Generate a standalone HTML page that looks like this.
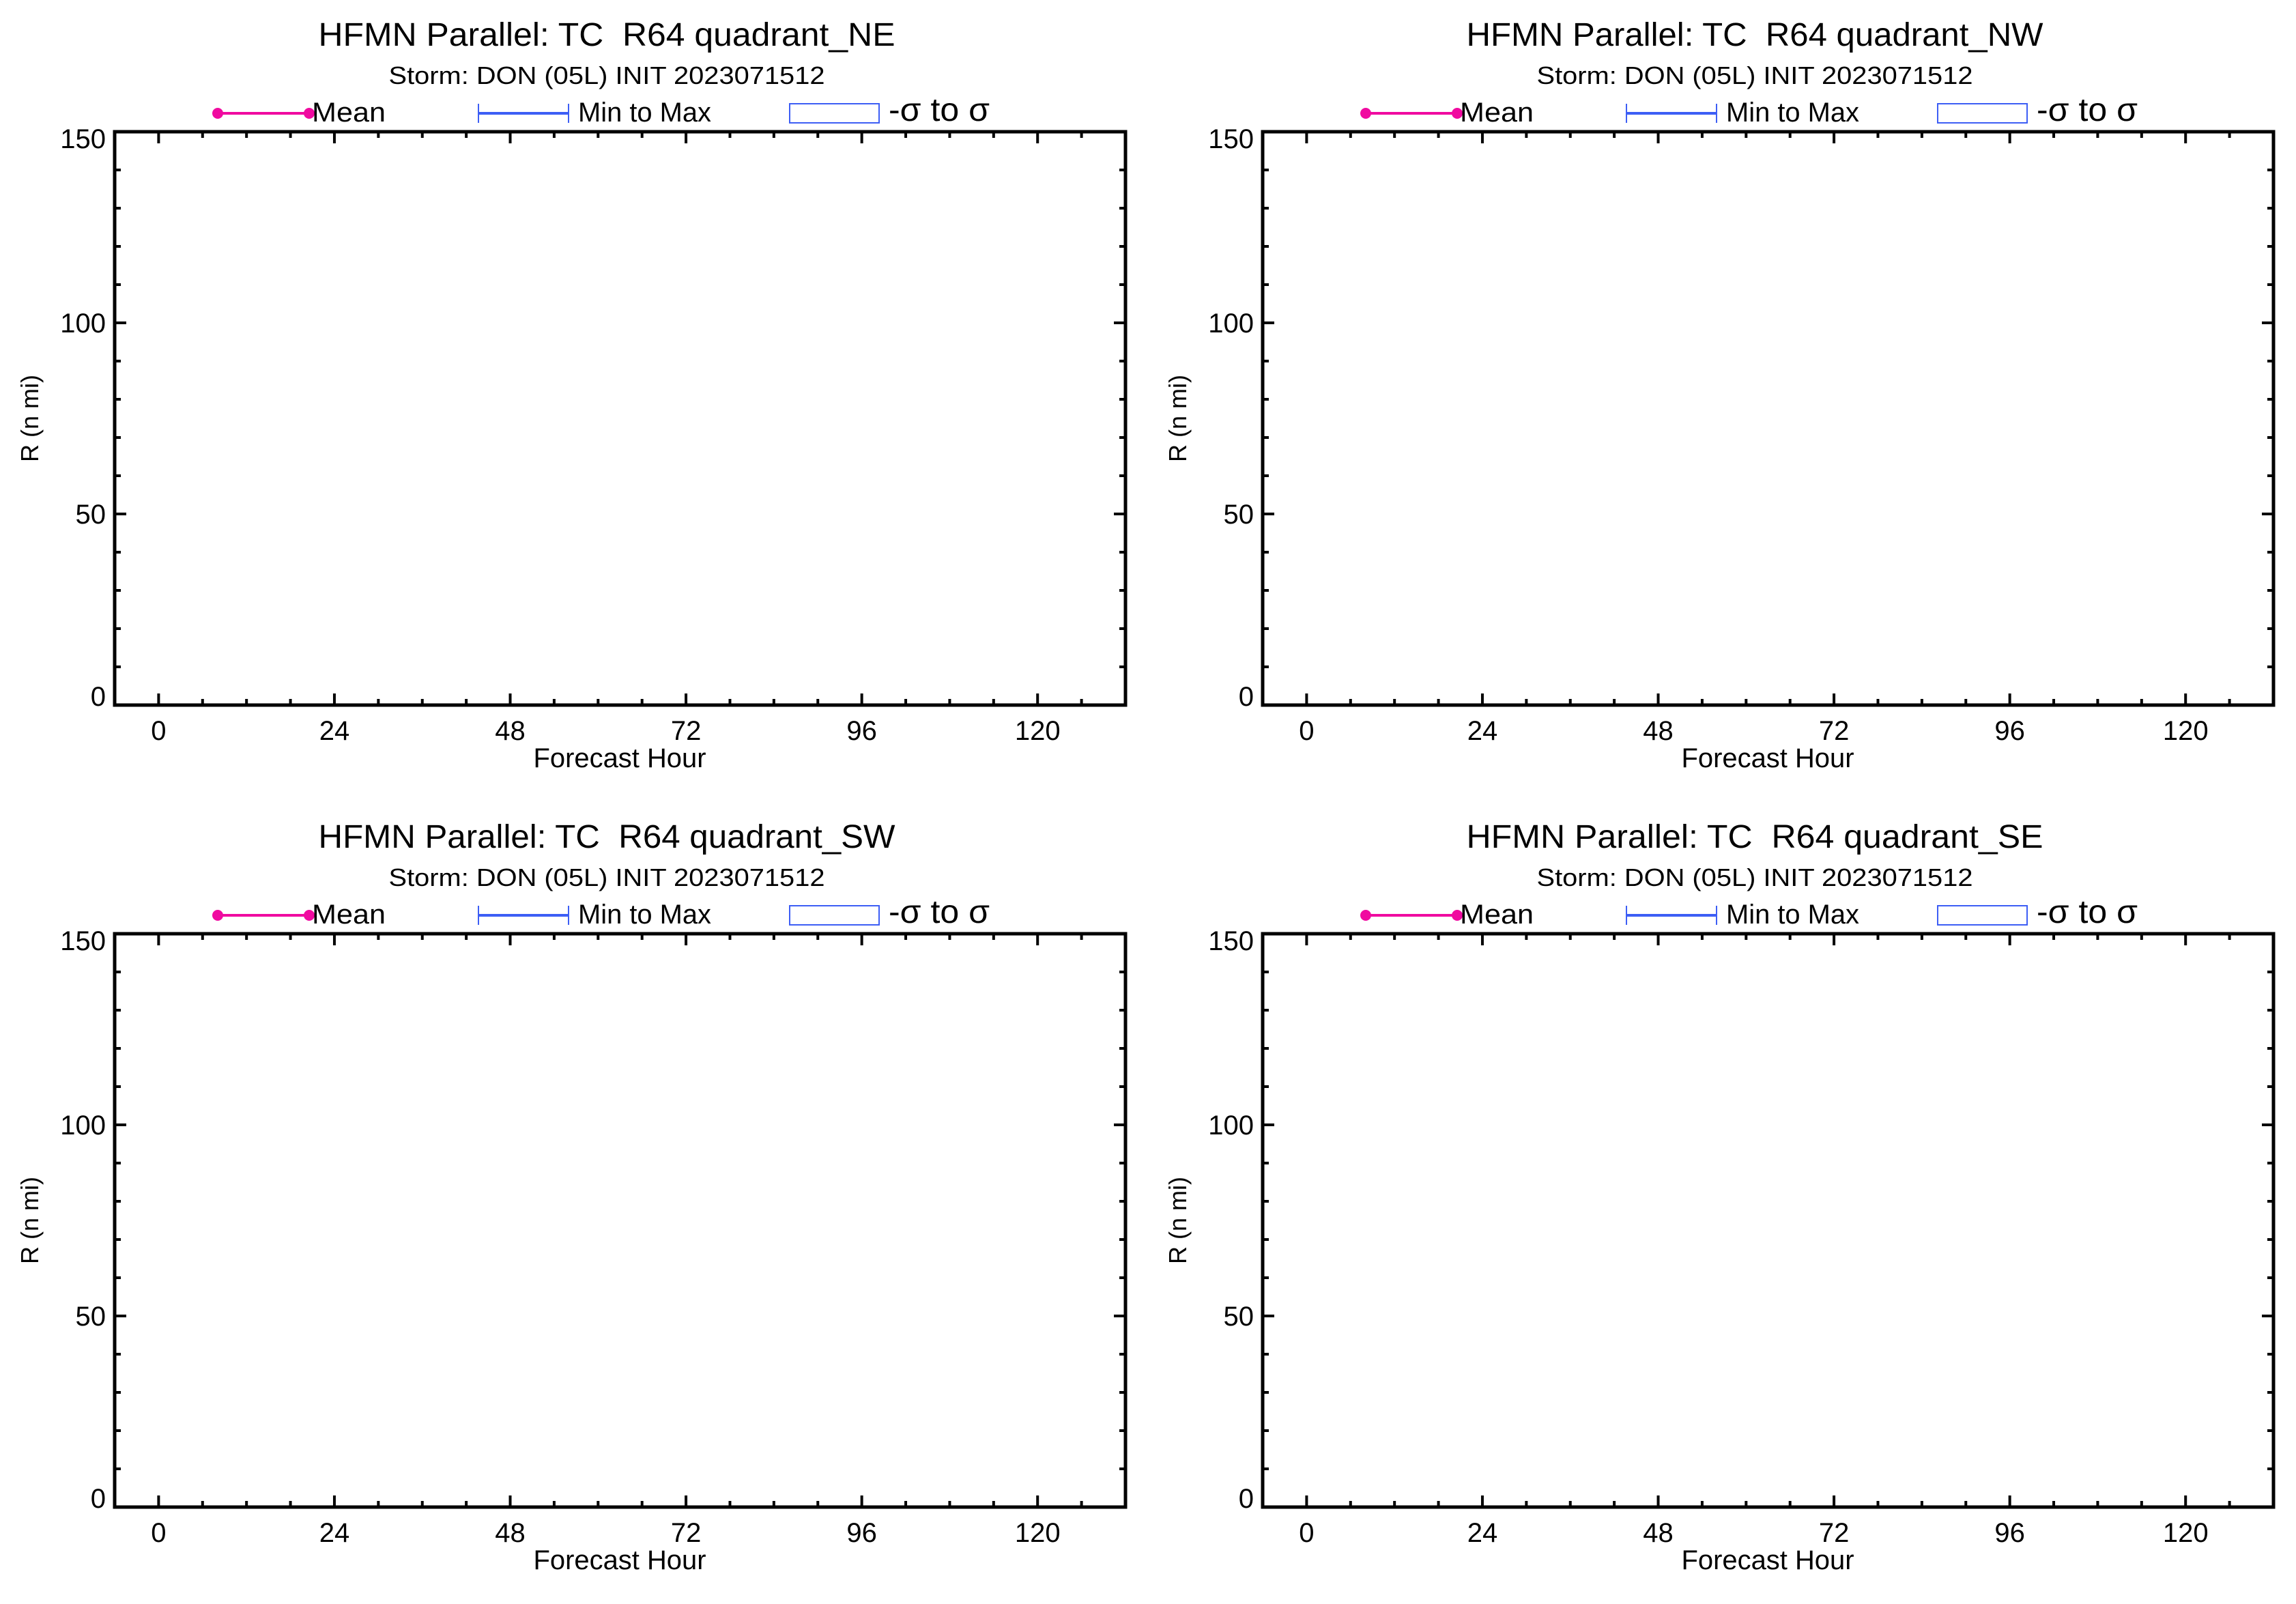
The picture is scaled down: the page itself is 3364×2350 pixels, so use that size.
<!DOCTYPE html>
<html><head><meta charset="utf-8"><style>
html,body{margin:0;padding:0;background:#fff;}
svg{display:block;font-family:"Liberation Sans",sans-serif;}
text{white-space:pre;}
</style></head><body>
<svg id="chart" width="3364" height="2350" viewBox="0 0 3364 2350" xmlns="http://www.w3.org/2000/svg" xml:space="preserve"></svg>
<script>
const panelTitles = ["HFMN Parallel: TC  R64 quadrant_NE","HFMN Parallel: TC  R64 quadrant_NW","HFMN Parallel: TC  R64 quadrant_SW","HFMN Parallel: TC  R64 quadrant_SE"];
const panelNames = ["ne","nw","sw","se"];
const subtitle = "Storm: DON (05L) INIT 2023071512";
const xTickLabels = [0,24,48,72,96,120];
const yTickLabels = [0,50,100,150];
const meanValues = [];
const minValues = [];
const maxValues = [];
const xDomain = [-6,132];
const yDomain = [0,150];

const NS="http://www.w3.org/2000/svg";
const svg=document.getElementById('chart');
function mk(tag,attrs,parent){const e=document.createElementNS(NS,tag);for(const k in attrs)e.setAttribute(k,attrs[k]);(parent||svg).appendChild(e);return e;}
const offsets=[[0,0],[1682,0],[0,1175],[1682,1175]];
offsets.forEach((o,i)=>{
  const g=mk('g',{transform:`translate(${o[0]},${o[1]})`});
  
  
  const L=168,R=1649,T=193,B=1033;
  const xs=v=>L+(v-xDomain[0])/(xDomain[1]-xDomain[0])*(R-L);
  const ys=v=>B-(v-yDomain[0])/(yDomain[1]-yDomain[0])*(B-T);
  let t=mk('text',{x:889,y:67,'font-size':48,'text-anchor':'middle',textLength:845,lengthAdjust:'spacingAndGlyphs'},g);t.textContent=panelTitles[i];
  
  
  t=mk('text',{x:889,y:123,'font-size':36,'text-anchor':'middle',textLength:639,lengthAdjust:'spacingAndGlyphs'},g);t.textContent=subtitle;
  
  
  const lg=mk('g',{},g);
  
  
  mk('line',{x1:319,y1:166,x2:453,y2:166,stroke:'#f00aa0','stroke-width':4},lg);
  mk('circle',{cx:319,cy:166,r:8,fill:'#f00aa0'},lg);
  mk('circle',{cx:453,cy:166,r:8,fill:'#f00aa0'},lg);
  t=mk('text',{x:457,y:178,'font-size':40,textLength:108,lengthAdjust:'spacingAndGlyphs'},lg);t.textContent='Mean';
  
  
  mk('line',{x1:701,y1:166,x2:833,y2:166,stroke:'#3d5ef5','stroke-width':4},lg);
  mk('line',{x1:701,y1:152,x2:701,y2:180,stroke:'#3d5ef5','stroke-width':2},lg);
  mk('line',{x1:833,y1:152,x2:833,y2:180,stroke:'#3d5ef5','stroke-width':2},lg);
  t=mk('text',{x:847,y:178,'font-size':40,textLength:195,lengthAdjust:'spacingAndGlyphs'},lg);t.textContent='Min to Max';
  
  
  mk('rect',{x:1157,y:152,width:131,height:28,fill:'none',stroke:'#3d5ef5','stroke-width':2},lg);
  t=mk('text',{x:1302,y:177,'font-size':48,textLength:148,lengthAdjust:'spacingAndGlyphs'},lg);t.textContent='-σ to σ';
  
  
  for(let v=0;v<=130;v+=6){const x=xs(v);const len=(v%24===0)?17:9;
    mk('line',{x1:x,y1:B,x2:x,y2:B-len,stroke:'#000','stroke-width':4},g);
    mk('line',{x1:x,y1:T,x2:x,y2:T+len,stroke:'#000','stroke-width':4},g);}
  for(let v=0;v<=150;v+=10){const y=ys(v);const len=(v%50===0)?17:9;
    mk('line',{x1:L,y1:y,x2:L+len,y2:y,stroke:'#000','stroke-width':4},g);
    mk('line',{x1:R,y1:y,x2:R-len,y2:y,stroke:'#000','stroke-width':4},g);}
  const frame=mk('rect',{x:L,y:T,width:R-L,height:B-T,fill:'none',stroke:'#000','stroke-width':5},g);
  
  
  xTickLabels.forEach(v=>{const tt=mk('text',{x:xs(v),y:1084,'font-size':40,'text-anchor':'middle'},g);tt.textContent=v;
    
    });
  yTickLabels.forEach(v=>{const off=(v===yDomain[0])?1:(v===yDomain[1]?24:14);
    const tt=mk('text',{x:155,y:ys(v)+off,'font-size':40,'text-anchor':'end'},g);tt.textContent=v;
    
    });
  t=mk('text',{x:908,y:1124,'font-size':40,'text-anchor':'middle',textLength:253,lengthAdjust:'spacingAndGlyphs'},g);t.textContent='Forecast Hour';
  
  
  t=mk('text',{x:0,y:0,'font-size':36,'text-anchor':'middle',transform:'translate(56,613) rotate(-90)'},g);t.textContent='R (n mi)';
  
  
  if(meanValues.length){const pts=meanValues.map((v,k)=>xs(k*6)+','+ys(v)).join(' ');
    const pl=mk('polyline',{points:pts,fill:'none',stroke:'#f00aa0','stroke-width':4},g);
    
    }
});
</script>
</body></html>
